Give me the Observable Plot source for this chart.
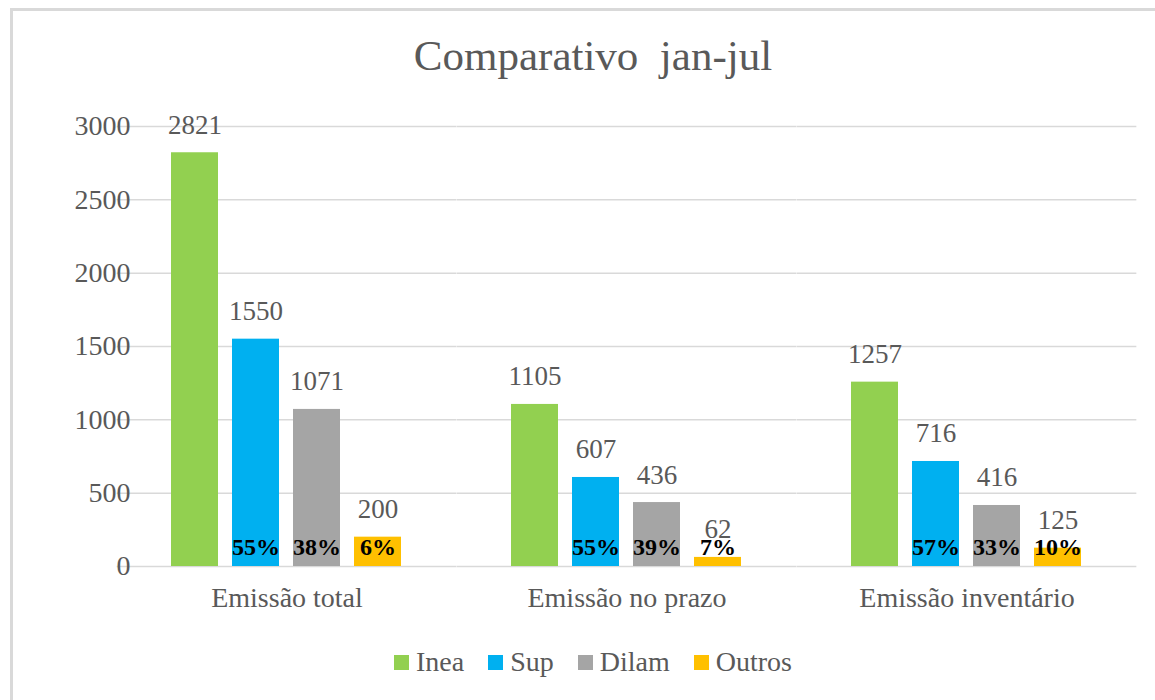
<!DOCTYPE html>
<html>
<head>
<meta charset="utf-8">
<script src="https://cdn.jsdelivr.net/npm/d3@7"></script>
<script src="https://cdn.jsdelivr.net/npm/@observablehq/plot@0.6"></script>
<style>
html, body { margin: 0; padding: 0; background: #fff; width: 1155px; height: 700px; overflow: hidden; font-family: "Liberation Serif", "DejaVu Serif", serif; }
#frame { position: absolute; left: 10px; top: 8px; width: 1170px; height: 720px; border-left: 3px solid #d9d9d9; border-top: 3px solid #d9d9d9; box-sizing: border-box; }
#title { position: absolute; left: 11px; width: 1164px; top: 34px; text-align: center; font-family: "Liberation Serif", "DejaVu Serif", serif; font-size: 43px; line-height: 43px; color: #595959; white-space: pre; }
#chart { position: absolute; left: 0; top: 100px; }
#chart svg, #chart svg text { font-family: "Liberation Serif", "DejaVu Serif", serif !important; }
#legend { position: absolute; left: 11px; width: 1164px; top: 648px; height: 28px; display: flex; justify-content: center; align-items: center; font-family: "Liberation Serif", "DejaVu Serif", serif; font-size: 28px; line-height: 28px; color: #595959; }
.item { display: flex; align-items: center; margin: 0 12px; }
.sw { width: 15px; height: 15px; margin-right: 7px; }
</style>
</head>
<body>
<div id="frame"></div>
<div id="title">Comparativo  jan-jul</div>
<div id="chart"></div>
<div id="legend"></div>
<script>
const categories = ["Emissão total", "Emissão no prazo", "Emissão inventário"];
const series = ["Inea", "Sup", "Dilam", "Outros"];
const colors = ["#92D050", "#00B0F0", "#A5A5A5", "#FFC000"];
const inea = [2821, 1105, 1257];
const sup = [1550, 607, 716];
const dilam = [1071, 436, 416];
const outros = [200, 62, 125];
const pctSup = ["55%", "55%", "57%"];
const pctDilam = ["38%", "39%", "33%"];
const pctOutros = ["6%", "7%", "10%"];
const yTicks = [0, 500, 1000, 1500, 2000, 2500, 3000];

const values = [inea, sup, dilam, outros];
const pcts = [null, pctSup, pctDilam, pctOutros];
const rows = [];
categories.forEach((c, i) => {
  series.forEach((s, j) => {
    rows.push({category: c, series: s, value: values[j][i], pct: pcts[j] ? pcts[j][i] : null});
  });
});

const W = 1155, ML = 116, MR = 17;
const fxPad = 0.231;
const step = (W - ML - MR) / categories.length;
const ext = -(step * fxPad) / 2; // extend grid across gaps between facets

const serif = '"Liberation Serif", "DejaVu Serif", serif';
const chart = Plot.plot({
  width: W,
  height: 525,
  marginTop: 26,
  marginBottom: 59,
  marginLeft: ML,
  marginRight: MR,
  style: {background: "transparent", fontFamily: serif, color: "#595959"},
  fx: {domain: categories, paddingInner: fxPad, paddingOuter: fxPad / 2, label: null},
  x: {domain: series, padding: 0.226, axis: null},
  y: {domain: [0, 3000], label: null},
  color: {domain: series, range: colors},
  marks: [
    Plot.gridY(yTicks, {stroke: "#d9d9d9", strokeOpacity: 1, strokeWidth: 1.5, insetLeft: ext, insetRight: ext}),
    Plot.barY(rows, {fx: "category", x: "series", y: "value", fill: "series"}),
    Plot.text(rows, {fx: "category", x: "series", y: "value", text: d => String(d.value), lineAnchor: "bottom", dy: -19, fontSize: 27, fontFamily: serif, fill: "#595959"}),
    Plot.text(rows.filter(d => d.pct), {fx: "category", x: "series", y: () => 0, text: "pct", lineAnchor: "bottom", dy: -12, fontSize: 24, fontFamily: serif, fontWeight: "bold", fill: "#000"}),
    Plot.axisY(yTicks, {tickSize: 0, tickPadding: 26, fontSize: 28, fontFamily: serif, tickFormat: d => String(d), label: null, fill: "#595959"}),
    Plot.axisFx({anchor: "bottom", tickSize: 0, tickPadding: 21, fontSize: 28, fontFamily: serif, label: null, fill: "#595959"})
  ]
});
document.getElementById("chart").appendChild(chart);

const legend = document.getElementById("legend");
series.forEach((s, i) => {
  const item = document.createElement("div");
  item.className = "item";
  const sw = document.createElement("div");
  sw.className = "sw";
  sw.style.background = colors[i];
  const label = document.createElement("span");
  label.textContent = s;
  item.appendChild(sw);
  item.appendChild(label);
  legend.appendChild(item);
});
</script>
</body>
</html>
